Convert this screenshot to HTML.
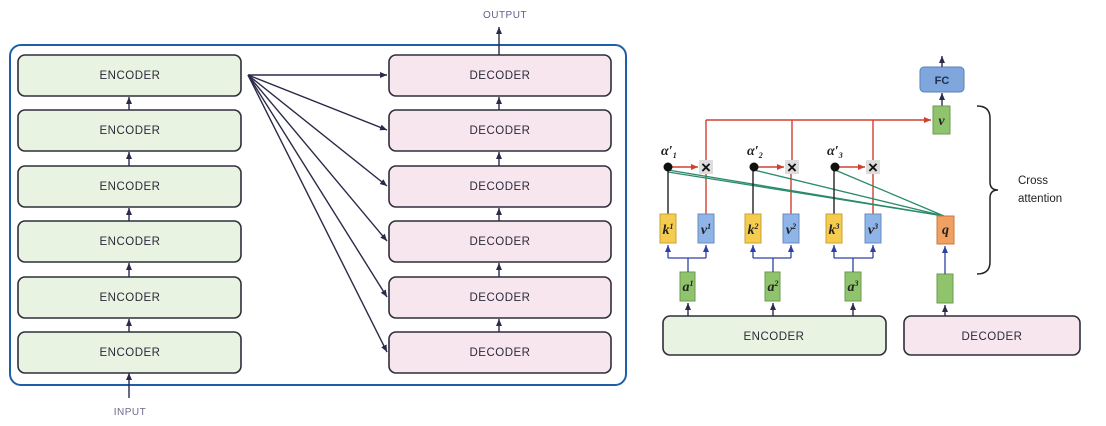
<!DOCTYPE html>
<html><head><meta charset="utf-8"><style>
html,body{margin:0;padding:0;background:#fff;}
svg{display:block;font-family:"Liberation Sans",sans-serif;}
.enc{fill:#e9f3e1;stroke:#2e2e3a;stroke-width:1.6}
.dec{fill:#f8e6ef;stroke:#2e2e3a;stroke-width:1.6}
.lbl{font-size:11.5px;fill:#2a2a3a;text-anchor:middle;letter-spacing:0.5px}
.ar{stroke:#2a2a4a;stroke-width:1.4;fill:none}
.it{font-family:"Liberation Serif",serif;font-style:italic;font-weight:bold;font-size:14px;text-anchor:middle;fill:#222}
</style></head><body>
<svg width="1106" height="426" viewBox="0 0 1106 426">
<defs>
<marker id="a" markerWidth="8" markerHeight="8" refX="7" refY="4" orient="auto" markerUnits="userSpaceOnUse"><path d="M0,1 L7,4 L0,7 Z" fill="#2a2a4a"/></marker>
<marker id="ar" markerWidth="8" markerHeight="8" refX="7" refY="4" orient="auto" markerUnits="userSpaceOnUse"><path d="M0,1 L7,4 L0,7 Z" fill="#d04030"/></marker>
<marker id="ab" markerWidth="8" markerHeight="8" refX="7" refY="4" orient="auto" markerUnits="userSpaceOnUse"><path d="M0,1 L7,4 L0,7 Z" fill="#3040a0"/></marker>
</defs>
<rect x="10" y="45" width="616" height="340" rx="11" fill="none" stroke="#1f5fa8" stroke-width="2"/>
<text x="505" y="18" class="lbl" style="fill:#6a5a8a;font-size:10px">OUTPUT</text>
<line x1="499" y1="56" x2="499" y2="27" class="ar" marker-end="url(#a)"/>
<text x="130" y="415" class="lbl" style="fill:#6a6a8a;font-size:10px">INPUT</text>
<line x1="129" y1="398" x2="129" y2="373" class="ar" marker-end="url(#a)"/>
<g>
<rect class="enc" x="18" y="55" width="223" height="41" rx="7"/><text class="lbl" x="130" y="79">ENCODER</text>
<rect class="enc" x="18" y="110" width="223" height="41" rx="7"/><text class="lbl" x="130" y="134">ENCODER</text>
<rect class="enc" x="18" y="166" width="223" height="41" rx="7"/><text class="lbl" x="130" y="190">ENCODER</text>
<rect class="enc" x="18" y="221" width="223" height="41" rx="7"/><text class="lbl" x="130" y="245">ENCODER</text>
<rect class="enc" x="18" y="277" width="223" height="41" rx="7"/><text class="lbl" x="130" y="301">ENCODER</text>
<rect class="enc" x="18" y="332" width="223" height="41" rx="7"/><text class="lbl" x="130" y="356">ENCODER</text>
<line x1="129" y1="110" x2="129" y2="97" class="ar" marker-end="url(#a)"/>
<line x1="129" y1="166" x2="129" y2="152" class="ar" marker-end="url(#a)"/>
<line x1="129" y1="221" x2="129" y2="208" class="ar" marker-end="url(#a)"/>
<line x1="129" y1="277" x2="129" y2="263" class="ar" marker-end="url(#a)"/>
<line x1="129" y1="332" x2="129" y2="319" class="ar" marker-end="url(#a)"/>
</g>
<g>
<rect class="dec" x="389" y="55" width="222" height="41" rx="7"/><text class="lbl" x="500" y="79">DECODER</text>
<rect class="dec" x="389" y="110" width="222" height="41" rx="7"/><text class="lbl" x="500" y="134">DECODER</text>
<rect class="dec" x="389" y="166" width="222" height="41" rx="7"/><text class="lbl" x="500" y="190">DECODER</text>
<rect class="dec" x="389" y="221" width="222" height="41" rx="7"/><text class="lbl" x="500" y="245">DECODER</text>
<rect class="dec" x="389" y="277" width="222" height="41" rx="7"/><text class="lbl" x="500" y="301">DECODER</text>
<rect class="dec" x="389" y="332" width="222" height="41" rx="7"/><text class="lbl" x="500" y="356">DECODER</text>
<line x1="499" y1="110" x2="499" y2="97" class="ar" marker-end="url(#a)"/>
<line x1="499" y1="166" x2="499" y2="152" class="ar" marker-end="url(#a)"/>
<line x1="499" y1="221" x2="499" y2="208" class="ar" marker-end="url(#a)"/>
<line x1="499" y1="277" x2="499" y2="263" class="ar" marker-end="url(#a)"/>
<line x1="499" y1="332" x2="499" y2="319" class="ar" marker-end="url(#a)"/>
</g>
<g>
<line x1="248" y1="75" x2="387" y2="75" class="ar" marker-end="url(#a)"/>
<line x1="248" y1="75" x2="387" y2="130" class="ar" marker-end="url(#a)"/>
<line x1="248" y1="75" x2="387" y2="186" class="ar" marker-end="url(#a)"/>
<line x1="248" y1="75" x2="387" y2="241" class="ar" marker-end="url(#a)"/>
<line x1="248" y1="75" x2="387" y2="297" class="ar" marker-end="url(#a)"/>
<line x1="248" y1="75" x2="387" y2="352" class="ar" marker-end="url(#a)"/>
</g>
<rect x="663" y="316" width="223" height="39" rx="7" class="enc"/><text class="lbl" x="774" y="340">ENCODER</text>
<rect x="904" y="316" width="176" height="39" rx="7" class="dec"/><text class="lbl" x="992" y="340">DECODER</text>
<rect x="920" y="67" width="44" height="25" rx="4" fill="#7fa7dd" stroke="#5a80b8"/>
<text x="942" y="84" text-anchor="middle" font-size="11" font-weight="bold" fill="#203050">FC</text>
<line x1="942" y1="67" x2="942" y2="56" class="ar" marker-end="url(#a)"/>
<line x1="942" y1="106" x2="942" y2="93" class="ar" marker-end="url(#a)"/>
<rect x="933" y="106" width="17" height="28" fill="#8fc46c" stroke="#6a9a50"/>
<text x="941.5" y="125" class="it">v</text>
<g stroke="#d04030" stroke-width="1.4" fill="none">
<line x1="706" y1="120" x2="931" y2="120" marker-end="url(#ar)"/>
<line x1="706" y1="120" x2="706" y2="160"/>
<line x1="792" y1="120" x2="792" y2="160"/>
<line x1="873" y1="120" x2="873" y2="160"/>
<line x1="706" y1="214" x2="706" y2="173"/>
<line x1="791" y1="214" x2="791" y2="173"/>
<line x1="873" y1="214" x2="873" y2="173"/>
<line x1="670" y1="167" x2="698" y2="167" marker-end="url(#ar)"/>
<line x1="756" y1="167" x2="784" y2="167" marker-end="url(#ar)"/>
<line x1="837" y1="167" x2="865" y2="167" marker-end="url(#ar)"/>
</g>
<g font-size="17" font-weight="bold" fill="#111" text-anchor="middle">
<rect x="699" y="160" width="14" height="14" fill="#ddd"/><text x="706" y="173">×</text>
<rect x="785" y="160" width="14" height="14" fill="#ddd"/><text x="792" y="173">×</text>
<rect x="866" y="160" width="14" height="14" fill="#ddd"/><text x="873" y="173">×</text>
</g>
<g stroke="#2a8a6a" stroke-width="1.3">
<line x1="668" y1="170" x2="944" y2="216"/>
<line x1="754" y1="170" x2="944" y2="216"/>
<line x1="835" y1="170" x2="944" y2="216"/>
<line x1="668" y1="172" x2="944" y2="216"/>
</g>
<g stroke="#222" stroke-width="1.4">
<line x1="668" y1="214" x2="668" y2="170"/>
<line x1="753" y1="214" x2="753" y2="170"/>
<line x1="834" y1="214" x2="834" y2="170"/>
</g>
<circle cx="668" cy="167" r="4.5" fill="#111"/>
<circle cx="754" cy="167" r="4.5" fill="#111"/>
<circle cx="835" cy="167" r="4.5" fill="#111"/>
<g font-family="Liberation Serif,serif" font-style="italic" font-size="14" font-weight="bold" fill="#222">
<text x="661" y="155">α′<tspan font-size="8" dy="3">1</tspan></text>
<text x="747" y="155">α′<tspan font-size="8" dy="3">2</tspan></text>
<text x="827" y="155">α′<tspan font-size="8" dy="3">3</tspan></text>
</g>
<g stroke-width="1">
<rect x="660" y="214" width="16" height="29" fill="#f4cc50" stroke="#c8a030"/>
<rect x="698" y="214" width="16" height="29" fill="#8fb5e8" stroke="#6a8cc0"/>
<rect x="745" y="214" width="16" height="29" fill="#f4cc50" stroke="#c8a030"/>
<rect x="783" y="214" width="16" height="29" fill="#8fb5e8" stroke="#6a8cc0"/>
<rect x="826" y="214" width="16" height="29" fill="#f4cc50" stroke="#c8a030"/>
<rect x="865" y="214" width="16" height="29" fill="#8fb5e8" stroke="#6a8cc0"/>
<rect x="937" y="216" width="17" height="28" fill="#f0a060" stroke="#c87840"/>
<rect x="680" y="272" width="15" height="29" fill="#8fc46c" stroke="#6a9a50"/>
<rect x="765" y="272" width="15" height="29" fill="#8fc46c" stroke="#6a9a50"/>
<rect x="845" y="272" width="16" height="29" fill="#8fc46c" stroke="#6a9a50"/>
<rect x="937" y="274" width="16" height="29" fill="#8fc46c" stroke="#6a9a50"/>
</g>
<g>
<text class="it" x="668" y="234">k<tspan font-size="8" dy="-5">1</tspan></text>
<text class="it" x="706" y="234">v<tspan font-size="8" dy="-5">1</tspan></text>
<text class="it" x="753" y="234">k<tspan font-size="8" dy="-5">2</tspan></text>
<text class="it" x="791" y="234">v<tspan font-size="8" dy="-5">2</tspan></text>
<text class="it" x="834" y="234">k<tspan font-size="8" dy="-5">3</tspan></text>
<text class="it" x="873" y="234">v<tspan font-size="8" dy="-5">3</tspan></text>
<text class="it" x="945.5" y="234">q</text>
<text class="it" x="688" y="291">a<tspan font-size="8" dy="-5">1</tspan></text>
<text class="it" x="773" y="291">a<tspan font-size="8" dy="-5">2</tspan></text>
<text class="it" x="853" y="291">a<tspan font-size="8" dy="-5">3</tspan></text>
</g>
<g stroke="#3040a0" stroke-width="1.3" fill="none">
<polyline points="668,258 706,258"/><line x1="668" y1="258" x2="668" y2="245" marker-end="url(#ab)"/><line x1="706" y1="258" x2="706" y2="245" marker-end="url(#ab)"/><line x1="688" y1="272" x2="688" y2="258"/>
<polyline points="753,258 791,258"/><line x1="753" y1="258" x2="753" y2="245" marker-end="url(#ab)"/><line x1="791" y1="258" x2="791" y2="245" marker-end="url(#ab)"/><line x1="773" y1="272" x2="773" y2="258"/>
<polyline points="834,258 873,258"/><line x1="834" y1="258" x2="834" y2="245" marker-end="url(#ab)"/><line x1="873" y1="258" x2="873" y2="245" marker-end="url(#ab)"/><line x1="853" y1="272" x2="853" y2="258"/>
<line x1="945" y1="274" x2="945" y2="246" marker-end="url(#ab)"/>
</g>
<g class="ar">
<line x1="688" y1="316" x2="688" y2="303" marker-end="url(#a)"/>
<line x1="773" y1="316" x2="773" y2="303" marker-end="url(#a)"/>
<line x1="853" y1="316" x2="853" y2="303" marker-end="url(#a)"/>
<line x1="945" y1="316" x2="945" y2="305" marker-end="url(#a)"/>
</g>
<path d="M977,106 Q990,106 990,118 L990,182 Q990,190 998,190 Q990,190 990,198 L990,262 Q990,274 977,274" fill="none" stroke="#222" stroke-width="1.5"/>
<text x="1018" y="184" font-size="11.5" fill="#222">Cross</text>
<text x="1018" y="202" font-size="11.5" fill="#222">attention</text>
</svg>
</body></html>
